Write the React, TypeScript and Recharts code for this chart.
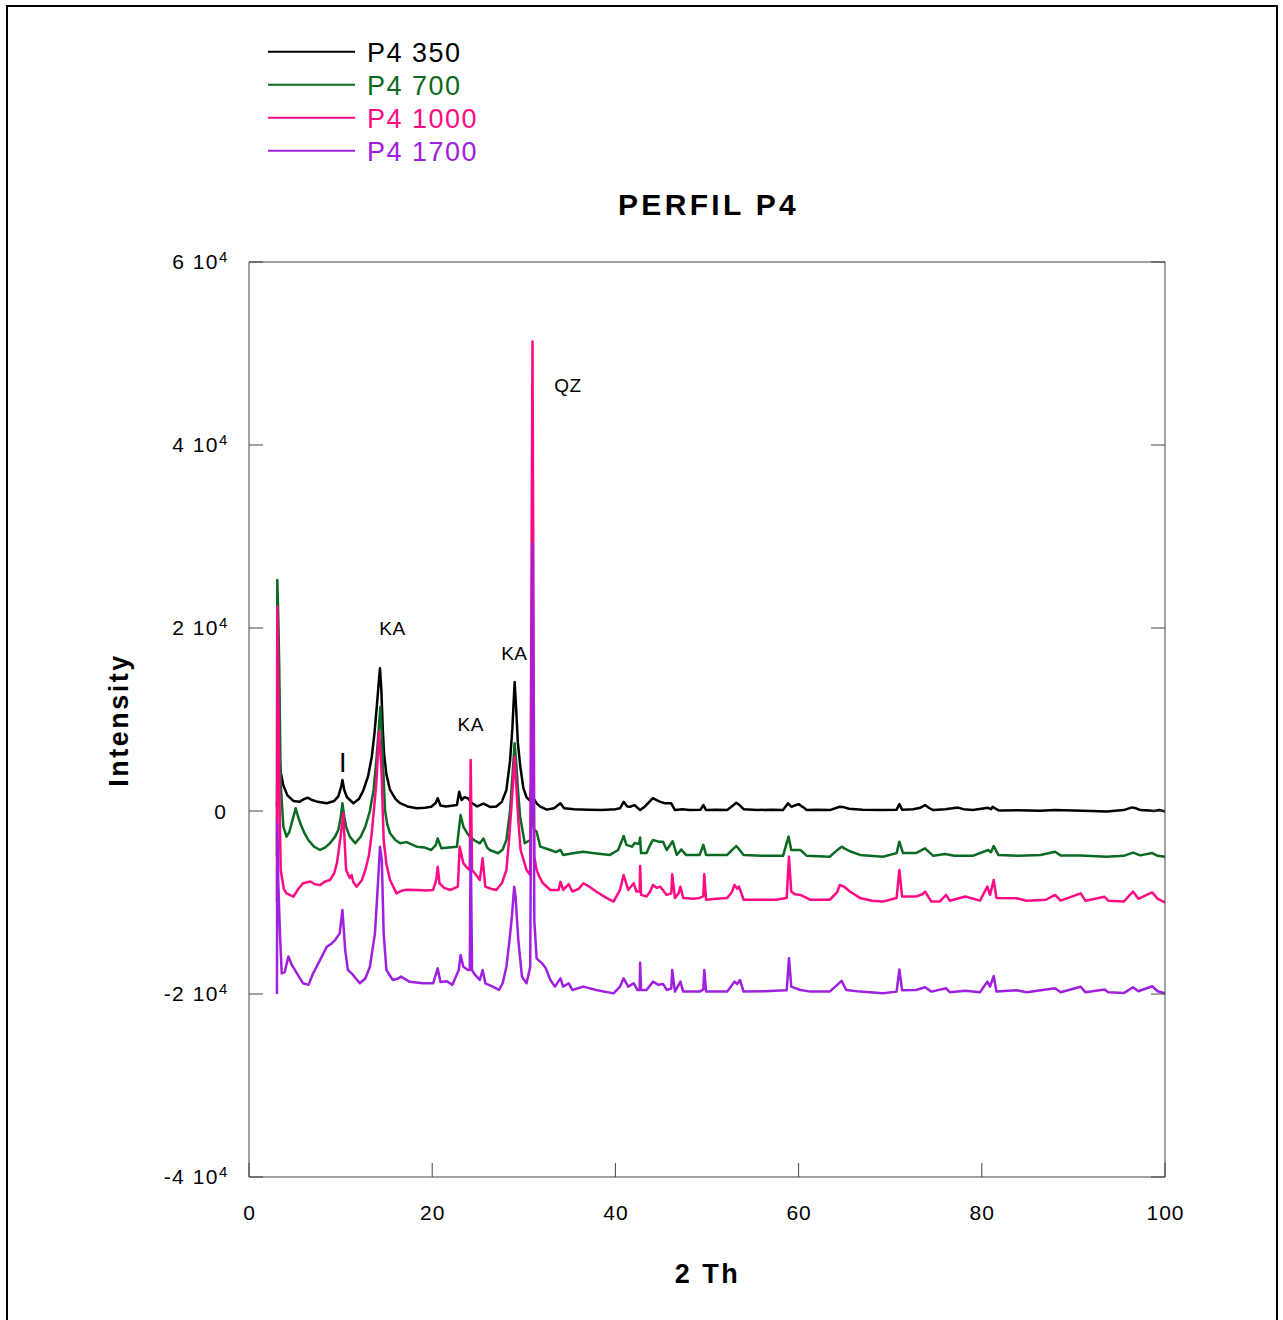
import React from 'react';
import { LineChart, Line, XAxis, YAxis, Legend, ReferenceDot } from 'recharts';

// ---------- data ----------
const SERIES_NAMES = ['P4 350', 'P4 700', 'P4 1000', 'P4 1700'];
const SERIES_COLORS = ['#000000', '#0b6a22', '#ff0a84', '#a020e0'];
const X_TICKS = [0, 20, 40, 60, 80, 100];
const Y_TICKS = [-40000, -20000, 0, 20000, 40000, 60000];
const CHART_TITLE = 'PERFIL P4';
const X_TITLE = '2 Th';
const Y_TITLE = 'Intensity';

const P4_350: [number, number][] = [
  [3.05, 500], [3.3, 6300], [3.45, 4300], [3.75, 2800], [4.2, 1700], [4.84, 1100], [5.5, 1000], [6.0, 1300],
  [6.4, 1450], [6.9, 1200], [7.5, 1000], [8.5, 850], [9.3, 1100], [9.75, 1600], [10.05, 2600], [10.2, 3400],
  [10.4, 2300], [10.7, 1500], [11.4, 850], [12.0, 1300], [12.5, 2300], [13.0, 3800], [13.4, 5900], [13.7, 8500],
  [13.95, 11400], [14.2, 14500], [14.3, 15600], [14.45, 13200], [14.6, 9000], [14.75, 6200], [15.0, 4000],
  [15.4, 2300], [16.0, 1300], [16.5, 850], [17.3, 500], [18.3, 300], [19.2, 350], [19.9, 470], [20.4, 900],
  [20.6, 1400], [20.9, 600], [21.5, 500], [22.7, 650], [22.95, 2100], [23.2, 1200], [23.5, 1500], [23.9, 1400],
  [24.3, 900], [24.9, 500], [25.6, 800], [26.3, 450], [27.0, 500], [27.6, 1000], [28.1, 2300], [28.5, 5500],
  [28.75, 9000], [29.0, 14100], [29.15, 11500], [29.35, 7500], [29.6, 5000], [29.95, 2500], [30.3, 1500],
  [30.7, 1100], [30.85, 3400], [31.0, 1500], [31.4, 840], [31.8, 470], [32.5, 150], [33.3, 300], [34.0, 840],
  [34.4, 300], [35.5, 200], [37.0, 150], [38.5, 100], [40.0, 200], [40.5, 300], [40.9, 1000], [41.3, 500],
  [41.6, 470], [42.1, 650], [42.7, 100], [43.2, 470], [43.7, 1000], [44.1, 1400], [44.5, 1200], [44.9, 1000],
  [45.4, 840], [46.1, 840], [46.5, 100], [47.3, 200], [48.1, 100], [49.3, 150], [49.6, 650], [49.9, 100],
  [51.0, 150], [52.2, 100], [52.7, 500], [53.2, 900], [53.6, 600], [54.0, 200], [55.5, 100], [57.0, 150],
  [58.3, 100], [58.85, 840], [59.2, 470], [60.0, 750], [60.5, 400], [60.9, 100], [62.0, 150], [63.4, 100],
  [64.5, 470], [65.0, 400], [65.5, 250], [67.0, 150], [69.2, 100], [70.7, 150], [71.0, 750], [71.3, 150],
  [72.5, 200], [73.3, 350], [73.8, 650], [74.3, 300], [74.7, 100], [76.0, 200], [77.4, 370], [78.0, 200],
  [79.0, 100], [80.7, 350], [81.0, 200], [81.2, 470], [81.5, 250], [81.9, 50], [84.0, 80], [86.4, 30],
  [88.0, 100], [90.0, 50], [92.0, 0], [93.6, -50], [95.5, 100], [96.4, 400], [96.8, 300], [97.3, 100],
  [98.3, 50], [98.8, 0], [99.4, 100], [100, -50],
];

const P4_700: [number, number][] = [
  [3.05, -5000], [3.09, 25250], [3.2, 21200], [3.3, 15800], [3.46, 3000], [3.75, -1700], [4.1, -2800],
  [4.4, -2300], [4.75, -1000], [5.1, 300], [5.35, -600], [5.6, -1350], [6.0, -2300], [6.5, -3200], [7.1, -3900],
  [7.75, -4260], [8.3, -4000], [8.84, -3530], [9.4, -2800], [9.75, -2080], [10.0, -800], [10.2, 840],
  [10.4, -600], [10.6, -1700], [11.0, -2800], [11.6, -3530], [12.2, -2800], [12.7, -1700], [13.2, 0],
  [13.6, 2300], [13.9, 5500], [14.1, 8100], [14.35, 11400], [14.55, 7000], [14.85, 100], [15.1, -1500],
  [15.4, -2440], [16.0, -3200], [16.5, -3530], [17.2, -3400], [18.3, -3900], [19.2, -4000], [19.9, -4260],
  [20.4, -3700], [20.6, -3000], [21.0, -4080], [21.8, -4000], [22.7, -3900], [23.1, -440], [23.4, -1700],
  [23.8, -2400], [24.1, -2800], [24.6, -3200], [25.2, -3530], [25.6, -3000], [26.0, -4000], [26.3, -4260],
  [27.2, -4620], [27.7, -4200], [28.1, -3170], [28.5, 0], [28.7, 3000], [29.0, 7400], [29.2, 4840],
  [29.4, 1800], [29.6, -620], [30.1, -3530], [30.7, -3170], [30.95, 1500], [31.1, -2000], [31.4, -2260],
  [31.8, -3900], [32.9, -4260], [33.5, -4500], [34.0, -4260], [34.3, -4800], [35.5, -4600], [36.5, -4450],
  [37.5, -4600], [39.4, -4800], [40.3, -4260], [40.9, -2730], [41.2, -3700], [41.8, -3900], [42.1, -3500],
  [42.6, -3600], [42.7, -2900], [42.8, -4600], [43.4, -4600], [43.8, -3700], [44.1, -3170], [44.7, -3350],
  [45.2, -3350], [45.6, -4260], [46.25, -3300], [46.7, -4800], [47.2, -4200], [47.7, -4800], [49.2, -4800],
  [49.6, -3700], [49.9, -4800], [52.2, -4800], [52.8, -4200], [53.2, -3830], [53.6, -4300], [54.0, -4800],
  [56.0, -4900], [58.3, -4900], [58.9, -2800], [59.2, -4260], [60.2, -4260], [60.9, -4900], [63.4, -5000],
  [64.3, -4200], [64.7, -3900], [65.0, -4080], [65.6, -4400], [66.7, -4800], [69.2, -5000], [70.7, -4600],
  [71.0, -3350], [71.4, -4600], [72.8, -4600], [73.8, -4080], [74.7, -4900], [76.0, -4700], [77.0, -4900],
  [79.0, -4900], [80.7, -4260], [81.0, -4500], [81.3, -3830], [81.8, -4800], [84.0, -4900], [86.4, -4800],
  [88.0, -4450], [88.6, -4850], [90.8, -4850], [93.6, -5000], [95.5, -4900], [96.5, -4550], [97.3, -4850],
  [98.6, -4600], [99.2, -4900], [100, -5000],
];

const P4_1000: [number, number][] = [
  [3.05, -10000], [3.09, 22300], [3.2, 12900], [3.35, 0], [3.46, -6450], [3.8, -8500], [4.1, -9000],
  [4.84, -9370], [5.4, -8500], [5.9, -7900], [6.7, -7700], [7.2, -8000], [7.75, -8100], [8.3, -7700],
  [8.84, -7540], [9.3, -6800], [9.6, -5700], [10.0, -2800], [10.3, -250], [10.45, -3500], [10.6, -6450],
  [11.0, -7330], [11.2, -7000], [11.4, -7800], [11.75, -8270], [12.3, -7600], [12.7, -6450], [13.1, -4800],
  [13.4, -2440], [13.9, 3000], [14.2, 8670], [14.45, 4800], [14.7, -3170], [15.0, -5800], [15.4, -7540],
  [16.1, -9000], [16.7, -8700], [17.2, -8600], [18.3, -8630], [19.3, -8700], [20.1, -8630], [20.45, -7500],
  [20.6, -6090], [20.8, -7900], [21.3, -8400], [22.0, -8630], [22.8, -8270], [23.0, -3900], [23.4, -5700],
  [23.8, -6200], [24.1, -6450], [24.2, 5570], [24.35, -6450], [24.8, -7000], [25.2, -7540], [25.5, -5170],
  [25.8, -8270], [26.4, -8500], [27.0, -8630], [27.6, -7900], [28.1, -6450], [28.4, -3000], [28.7, 1200],
  [29.0, 5930], [29.2, 2370], [29.4, -1000], [29.65, -4260], [30.3, -6450], [30.7, -7000], [30.95, 51300],
  [31.15, -5000], [31.4, -6450], [31.7, -7200], [32.1, -7900], [32.9, -8630], [33.8, -8630], [34.0, -7730],
  [34.3, -8630], [34.9, -8000], [35.3, -8800], [36.0, -8500], [36.5, -7900], [37.2, -8300], [37.9, -8800],
  [39.0, -9500], [39.8, -9900], [40.5, -8630], [40.9, -7000], [41.4, -8630], [42.0, -7900], [42.3, -8800],
  [42.65, -8800], [42.7, -6010], [42.8, -9170], [43.4, -9350], [43.8, -8800], [44.1, -8090], [44.5, -8400],
  [44.9, -8270], [45.6, -9170], [46.1, -9000], [46.2, -6900], [46.5, -9500], [46.9, -9000], [47.1, -8270],
  [47.4, -9500], [48.5, -9600], [49.2, -9500], [49.6, -9300], [49.7, -6900], [49.9, -9700], [51.0, -9600],
  [52.2, -9500], [52.7, -8900], [53.0, -8090], [53.3, -8500], [53.5, -8270], [54.0, -9700], [56.2, -9700],
  [57.5, -9700], [58.7, -9500], [58.95, -5000], [59.2, -8800], [59.6, -9100], [60.2, -9170], [61.3, -9700],
  [63.4, -9700], [64.2, -8900], [64.5, -8090], [65.0, -8300], [65.6, -8800], [66.7, -9500], [68.0, -9800],
  [69.2, -9900], [70.7, -9500], [71.0, -6450], [71.3, -9350], [72.8, -9350], [73.5, -9100], [73.8, -8800],
  [74.5, -9900], [75.4, -9900], [76.1, -9170], [76.5, -9800], [78.2, -9350], [79.8, -9800], [80.6, -8270],
  [80.9, -9170], [81.3, -7540], [81.6, -9500], [83.8, -9540], [84.9, -9800], [87.0, -9700], [88.0, -9170],
  [88.6, -9800], [90.8, -9000], [91.3, -9800], [93.4, -9370], [93.8, -9800], [95.5, -9900], [96.5, -8800],
  [97.1, -9600], [98.0, -9170], [98.6, -8900], [99.2, -9600], [100, -10000],
];

const P4_1700: [number, number][] = [
  [3.05, -20000], [3.09, -1350], [3.2, -7900], [3.38, -13400], [3.57, -17740], [3.9, -17600], [4.3, -15900],
  [4.66, -16800], [5.2, -17700], [5.9, -18830], [6.5, -19000], [7.0, -17740], [7.75, -16290], [8.5, -14830],
  [9.0, -14500], [9.4, -14100], [9.9, -13370], [10.2, -10820], [10.5, -15200], [10.8, -17380], [11.2, -17740],
  [12.1, -18830], [12.7, -18300], [13.2, -17020], [13.75, -13370], [14.1, -7540], [14.3, -3900], [14.5, -5350],
  [14.7, -13370], [15.0, -17380], [15.7, -18470], [16.3, -18300], [16.6, -18100], [17.5, -18650], [19.0, -18830],
  [20.1, -18830], [20.6, -17200], [20.9, -18700], [21.6, -18600], [22.2, -19000], [22.9, -17380], [23.1, -15740],
  [23.4, -17020], [23.9, -17380], [24.1, -17380], [24.2, -3170], [24.35, -17380], [24.6, -17800], [25.2, -18470],
  [25.5, -17380], [25.8, -18830], [26.6, -19190], [27.3, -19560], [27.7, -18800], [28.1, -17020], [28.4, -14500],
  [28.7, -11550], [28.95, -8270], [29.1, -9370], [29.4, -14100], [29.8, -18110], [30.3, -18830], [30.7, -17020],
  [30.95, 29300], [31.15, -12000], [31.4, -16100], [31.6, -16300], [32.0, -16650], [32.4, -17200], [32.9, -18470],
  [33.4, -19190], [34.0, -18290], [34.3, -19190], [34.9, -18830], [35.3, -19560], [36.5, -19190], [37.9, -19560],
  [39.8, -19930], [40.5, -19190], [40.9, -18290], [41.4, -19190], [42.0, -18830], [42.4, -19560], [42.65, -19560],
  [42.7, -16580], [42.8, -19560], [43.4, -19560], [44.1, -18650], [44.7, -19000], [45.2, -18900], [45.6, -19560],
  [46.1, -19400], [46.2, -17380], [46.5, -19740], [47.1, -18650], [47.4, -19740], [49.2, -19740], [49.6, -19500],
  [49.7, -17380], [49.9, -19740], [52.2, -19740], [53.0, -18650], [53.3, -18900], [53.6, -18470], [54.0, -19740],
  [56.2, -19700], [58.7, -19600], [58.95, -16100], [59.2, -19190], [60.2, -19560], [61.3, -19740], [63.4, -19740],
  [64.7, -18560], [65.2, -19560], [66.7, -19740], [69.2, -19930], [70.7, -19740], [71.0, -17310], [71.3, -19600],
  [72.8, -19560], [73.8, -19260], [74.5, -19740], [76.1, -19380], [76.5, -19800], [78.2, -19650], [79.8, -19800],
  [80.6, -18650], [80.9, -19200], [81.3, -18030], [81.6, -19740], [83.8, -19600], [84.9, -19800], [88.0, -19380],
  [88.6, -19800], [90.8, -19200], [91.3, -19800], [93.4, -19500], [93.8, -19800], [95.5, -19900], [96.5, -19260],
  [97.1, -19700], [98.6, -19150], [99.2, -19700], [100, -19930],
];

const ANNOTATION_LABELS = ['KA', 'KA', 'KA', 'I', 'QZ'];
const ANNOTATION_X = [15.67, 24.21, 28.97, 10.24, 34.83];
const ANNOTATION_Y = [20000, 9400, 17240, 5390, 46470];

// ---------- layout ----------
const W = 1283;
const H = 1320;
const PLOT_LEFT = 249;
const PLOT_TOP = 262;
const PLOT_RIGHT = 1165;
const PLOT_BOTTOM = 1177;
const LEFT_AXIS_W = 100;
const RIGHT_AXIS_W = 10;
const TOP_AXIS_H = 10;
const BOTTOM_AXIS_H = 60;
const TICK_LEN = 14;
const AXIS_COLOR = '#444';
const FONT = 'Arial, "Liberation Sans", Helvetica, sans-serif';

const SERIES_DATA = [P4_350, P4_700, P4_1000, P4_1700].map((s) => s.map(([x, y]) => ({ x, y })));

const BottomTick = (props: any) => {
  const { x, y, payload } = props;
  return (
    <g>
      <line x1={x} x2={x} y1={y} y2={y - TICK_LEN} stroke={AXIS_COLOR} strokeWidth={1} />
      <text x={x + 0.5} y={y + 43} textAnchor="middle" fontSize={21} letterSpacing={1} fill="#000" fontFamily={FONT}>
        {payload.value}
      </text>
    </g>
  );
};

const TopTick = (props: any) => {
  const { x, y } = props;
  return <line x1={x} x2={x} y1={y} y2={y + TICK_LEN} stroke={AXIS_COLOR} strokeWidth={1} />;
};

const LeftTick = (props: any) => {
  const { x, y, payload } = props;
  const v = payload.value as number;
  const m = v / 10000;
  return (
    <g>
      <line x1={x} x2={x + TICK_LEN} y1={y} y2={y} stroke={AXIS_COLOR} strokeWidth={1} />
      {v === 0 ? (
        <text x={x - 23} y={y + 7.5} textAnchor="end" fontSize={21} fill="#000" fontFamily={FONT}>0</text>
      ) : (
        <g>
          <text x={x - 30} y={y + 7} textAnchor="end" fontSize={21} letterSpacing={1.5} fill="#000" fontFamily={FONT}>
            {`${m} 10`}
          </text>
          <text x={x - 30} y={y + 0} textAnchor="start" fontSize={15} fill="#000" fontFamily={FONT}>4</text>
        </g>
      )}
    </g>
  );
};

const RightTick = (props: any) => {
  const { x, y } = props;
  return <line x1={x - TICK_LEN} x2={x} y1={y} y2={y} stroke={AXIS_COLOR} strokeWidth={1} />;
};

const TitleLabel = () => (
  <text x={708.5} y={215} textAnchor="middle" fontSize={30} fontWeight="bold" letterSpacing={3.3} fill="#000" fontFamily={FONT}>
    {CHART_TITLE}
  </text>
);

const XTitleLabel = () => (
  <text x={707.5} y={1283} textAnchor="middle" fontSize={27} fontWeight="bold" letterSpacing={2.5} fill="#000" fontFamily={FONT}>
    {X_TITLE}
  </text>
);

const YTitleLabel = () => (
  <text
    x={128}
    y={720}
    transform="rotate(-90 128 720)"
    textAnchor="middle"
    fontSize={27}
    fontWeight="bold"
    letterSpacing={2.5}
    fill="#000"
    fontFamily={FONT}
  >
    {Y_TITLE}
  </text>
);

const LegendContent = () => (
  <svg width={260} height={140} style={{ display: 'block', overflow: 'visible' }}>
    {SERIES_NAMES.map((name, i) => {
      const cy = 15.7 + i * 33;
      return (
        <g key={name}>
          <line x1={0} x2={87} y1={cy} y2={cy} stroke={SERIES_COLORS[i]} strokeWidth={2} />
          <text x={99} y={cy + 10.5} fontSize={27} letterSpacing={1.5} fill={SERIES_COLORS[i]} fontFamily={FONT}>
            {name}
          </text>
        </g>
      );
    })}
  </svg>
);

export default function App() {
  return (
    <div
      style={{
        position: 'absolute',
        left: 0,
        top: 0,
        width: W,
        height: H,
        background: '#fff',
        overflow: 'hidden',
        fontFamily: FONT,
      }}
    >
      <div
        style={{
          position: 'absolute',
          left: 6,
          top: 5,
          width: 1272,
          height: 1400,
          border: '2px solid #000',
          boxSizing: 'border-box',
        }}
      />
      <LineChart
        width={W}
        height={H}
        margin={{
          top: PLOT_TOP - TOP_AXIS_H,
          left: PLOT_LEFT - LEFT_AXIS_W,
          right: W - PLOT_RIGHT - RIGHT_AXIS_W,
          bottom: H - PLOT_BOTTOM - BOTTOM_AXIS_H,
        }}
        style={{ position: 'absolute', left: 0, top: 0 }}
      >
        <XAxis
          xAxisId="b"
          type="number"
          dataKey="x"
          orientation="bottom"
          domain={[0, 100]}
          ticks={X_TICKS}
          interval={0}
          allowDataOverflow
          height={BOTTOM_AXIS_H}
          tickSize={0}
          tickMargin={0}
          tickLine={false}
          axisLine={{ stroke: AXIS_COLOR, strokeWidth: 1 }}
          tick={BottomTick}
          label={XTitleLabel}
        />
        <XAxis
          xAxisId="t"
          type="number"
          orientation="top"
          domain={[0, 100]}
          ticks={X_TICKS}
          interval={0}
          allowDataOverflow
          height={TOP_AXIS_H}
          tickSize={0}
          tickMargin={0}
          tickLine={false}
          axisLine={{ stroke: AXIS_COLOR, strokeWidth: 1 }}
          tick={TopTick}
          label={TitleLabel}
        />
        <YAxis
          yAxisId="l"
          type="number"
          orientation="left"
          domain={[-40000, 60000]}
          ticks={Y_TICKS}
          interval={0}
          allowDataOverflow
          width={LEFT_AXIS_W}
          tickSize={0}
          tickMargin={0}
          tickLine={false}
          axisLine={{ stroke: AXIS_COLOR, strokeWidth: 1 }}
          tick={LeftTick}
          label={YTitleLabel}
        />
        <YAxis
          yAxisId="r"
          type="number"
          orientation="right"
          domain={[-40000, 60000]}
          ticks={Y_TICKS}
          interval={0}
          allowDataOverflow
          width={RIGHT_AXIS_W}
          tickSize={0}
          tickMargin={0}
          tickLine={false}
          axisLine={{ stroke: AXIS_COLOR, strokeWidth: 1 }}
          tick={RightTick}
        />
        <Legend
          layout="vertical"
          align="center"
          verticalAlign="middle"
          content={LegendContent}
          wrapperStyle={{ position: 'absolute', left: 268, top: 36, width: 260, height: 140 }}
        />
        {SERIES_DATA.map((data, i) => (
          <Line
            key={SERIES_NAMES[i]}
            name={SERIES_NAMES[i]}
            xAxisId="b"
            yAxisId="l"
            data={data}
            dataKey="y"
            type="linear"
            stroke={SERIES_COLORS[i]}
            strokeWidth={2.5}
            strokeLinejoin="round"
            dot={false}
            activeDot={false}
            isAnimationActive={false}
          />
        ))}
        {ANNOTATION_LABELS.map((label, i) => (
          <ReferenceDot
            key={`ann-${i}`}
            xAxisId="b"
            yAxisId="l"
            x={ANNOTATION_X[i]}
            y={ANNOTATION_Y[i]}
            r={0}
            shape={(p: any) => (
              <text
                x={p.cx}
                y={p.cy + (label === 'I' ? 10 : 6.5)}
                textAnchor="middle"
                fontSize={label === 'I' ? 27 : 19}
                letterSpacing={label === 'I' ? 0 : 0.5}
                fill="#000"
                fontFamily={FONT}
              >
                {label}
              </text>
            )}
          />
        ))}
      </LineChart>
    </div>
  );
}
